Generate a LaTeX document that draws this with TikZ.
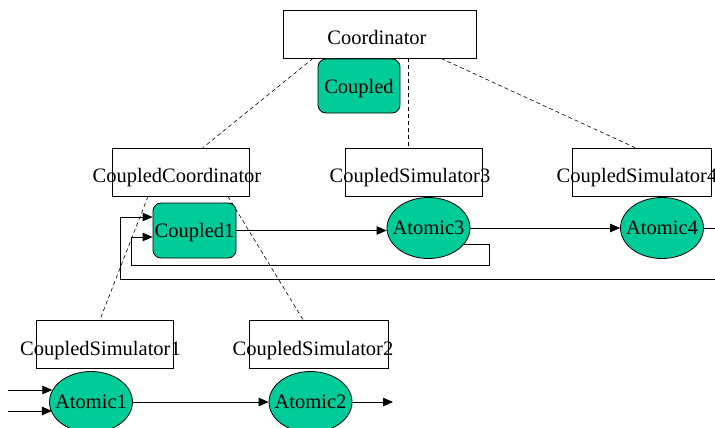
\documentclass[tikz,border=0pt]{standalone}
\usepackage{fontspec}
\setmainfont{Liberation Serif}
\usetikzlibrary{arrows.meta,calc,shapes.geometric}
\definecolor{modelfill}{RGB}{0,204,153}
\begin{document}
\begin{tikzpicture}[x=1pt,y=-1pt,
  box/.style={draw,line width=0.8pt,minimum width=137pt,minimum height=48pt,inner sep=0pt},
  cpl/.style={draw,line width=0.8pt,fill=modelfill,rounded corners=8pt,minimum width=83pt,minimum height=55pt,inner sep=0pt,text depth=0pt,font=\fontsize{20.5}{24}\selectfont},
  atom/.style={ellipse,draw,line width=0.8pt,fill=modelfill,minimum width=83pt,minimum height=61pt,inner sep=0pt},
  lbl/.style={inner sep=0pt,font=\fontsize{20.5}{24}\selectfont},
  link/.style={line width=0.6pt,dash pattern=on 4pt off 3pt},
  flow/.style={line width=0.8pt,-{Triangle[length=10pt,width=8.5pt]}},
  wire/.style={line width=0.8pt}]
\useasboundingbox (0,0) rectangle (715,428);

% hierarchy of processors
\node[box,minimum width=193pt] (coord) at (379.5,34) {};
\node[lbl] (coordT) at (377,37) {Coordinator};
\node[cpl,minimum width=82pt,minimum height=54pt] (top) at (359,86) {Coupled};

\node[box] (cc) at (180.5,172) {};
\node[box] (cs3) at (413.5,172) {};
\node[box,minimum width=139pt] (cs4) at (641.5,172) {};
\node[box] (cs1) at (104.5,344) {};
\node[box,minimum width=139pt] (cs2) at (318.5,344) {};

% dashed links between processors
\draw[link] ($(coord.south)+(-66.5,0)$) -- ($(cc.north)+(22.5,0)$);
\draw[link] ($(coord.south)+(28.5,0)$) -- ($(cs3.north)+(-5.5,0)$);
\draw[link] ($(coord.south)+(61.5,0)$) -- ($(cs4.north)+(-6.5,0)$);
\draw[link] ($(cc.south)+(-32.5,0)$) -- ($(cs1.north)+(-4.5,0)$);
\draw[link] ($(cc.south)+(47.5,0)$) -- ($(cs2.north)+(-15.5,0)$);

\node[lbl] (ccT) at (177,177.5) {CoupledCoordinator};
\node[lbl] (cs3T) at (410,177.5) {CoupledSimulator3};
\node[lbl] (cs4T) at (637,177.5) {CoupledSimulator4};
\node[lbl] (cs1T) at (100.5,350.5) {CoupledSimulator1};
\node[lbl] (cs2T) at (313,350.5) {CoupledSimulator2};

% models
\node[cpl] (c1) at (194.5,230.5) {Coupled1};
\node[atom] (a3) at (428.5,228) {};
\node[lbl] (a3T) at (a3) {Atomic3};
\node[atom] (a4) at (662,228) {};
\node[lbl] (a4T) at (a4) {Atomic4};
\node[atom] (a1) at (91,402) {};
\node[lbl] (a1T) at (a1) {Atomic1};
\node[atom] (a2) at (310.5,402) {};
\node[lbl] (a2T) at (a2) {Atomic2};

% couplings
\coordinate (out4) at (715,228);
\coordinate (ret) at (715,279);
\coordinate (retc) at (120,279);
\coordinate (fbA) at (489,265);
\coordinate (fbB) at (131,265);
\coordinate (in1) at (8,390);
\coordinate (in2) at (8,411);
\coordinate (out2) at (393,402);

\draw[flow] (c1.east) -- (c1.east -| a3.west);
\draw[flow] (a3.east) -- (a4.west);
\draw[wire] (a4.east) -- (out4);
\draw[flow] (a3.-25) -| (fbA) -- (fbB) |- ($(c1.west)+(0,6.5)$);
\draw[flow] (ret) -- (retc) |- ($(c1.west)+(0,-13.5)$);

\draw[flow] (in1) -- (in1 -| a1.163);
\draw[flow] (in2) -- (in2 -| a1.196);
\draw[flow] (a1.east) -- (a2.west);
\draw[flow] (a2.east) -- (out2);
\end{tikzpicture}
\end{document}
